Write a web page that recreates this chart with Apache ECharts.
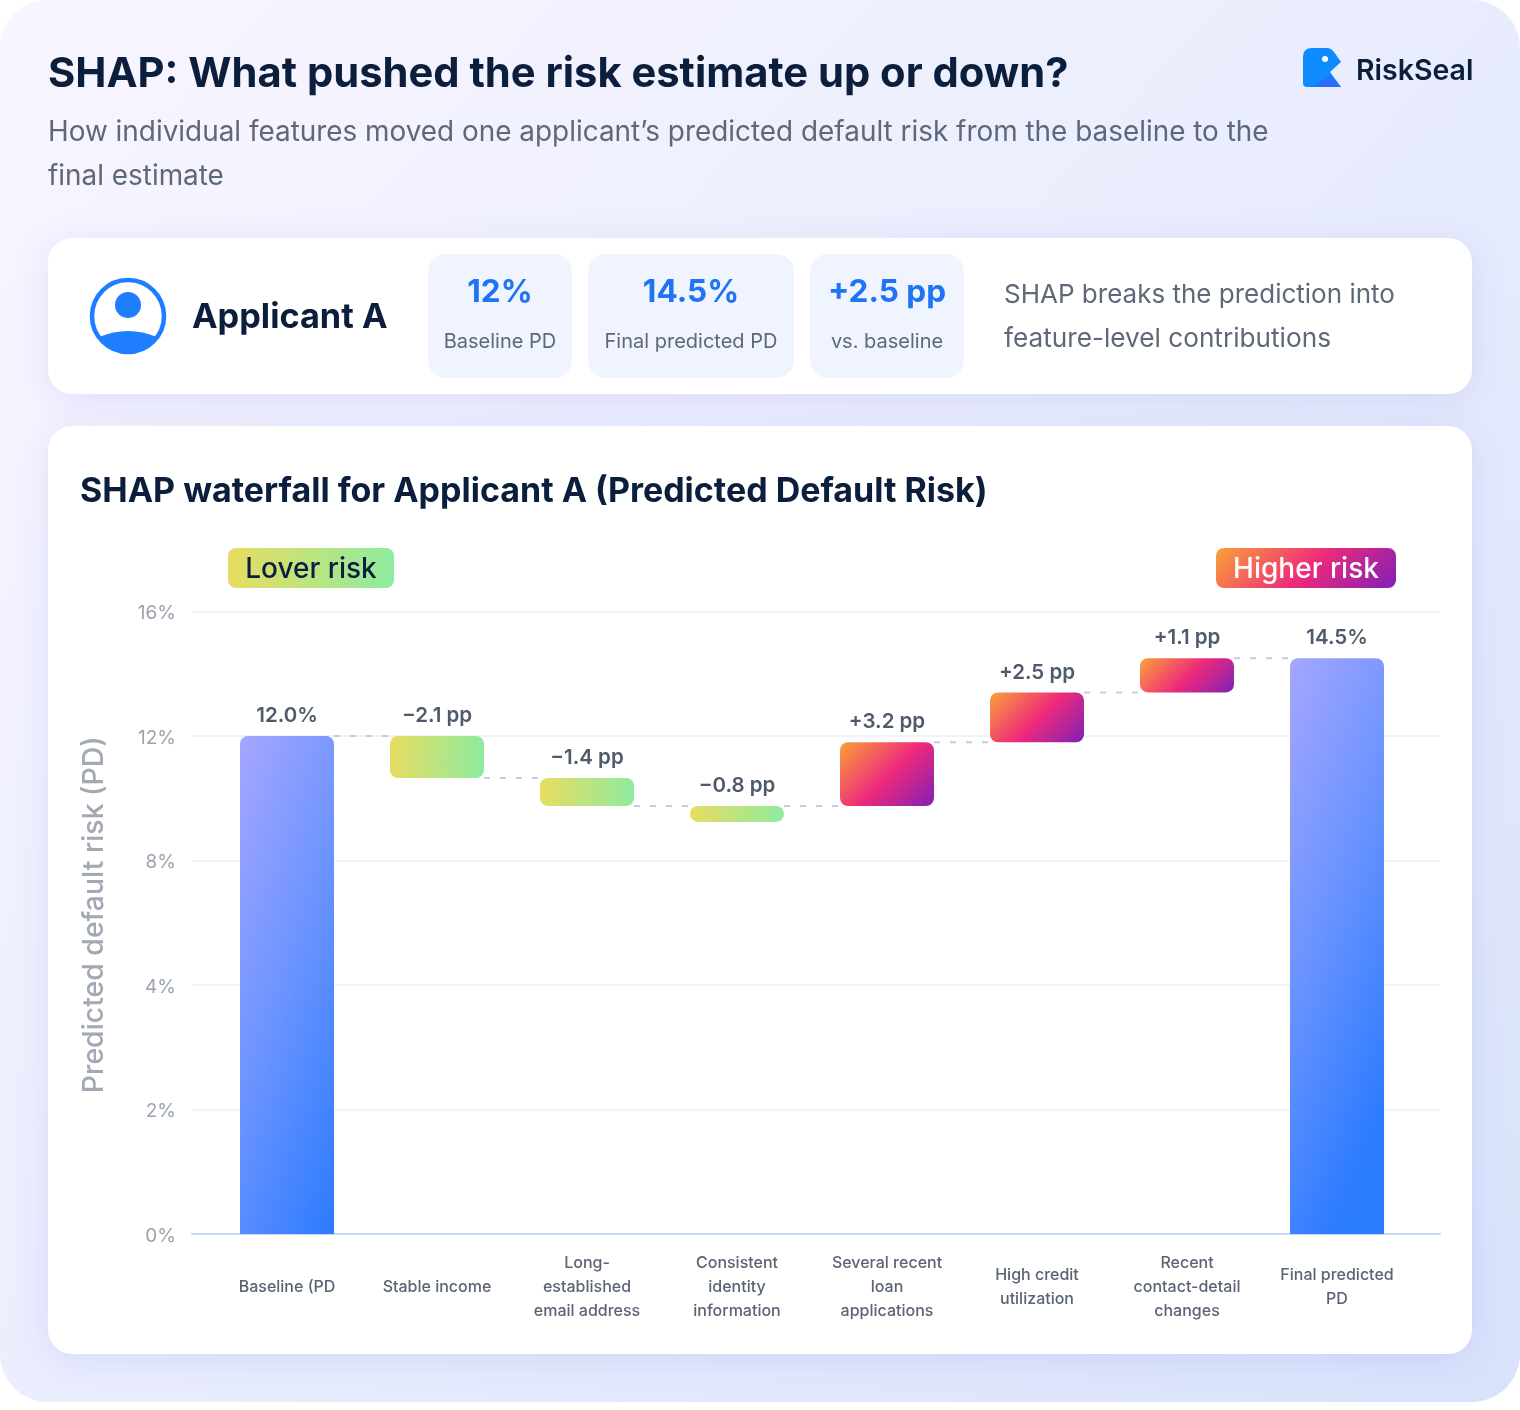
<!DOCTYPE html>
<html><head><meta charset="utf-8">
<style>html,body{margin:0;padding:0;background:#fff}#c{width:1520px;height:1410px}</style>
<script src="https://cdn.jsdelivr.net/npm/echarts@6/dist/echarts.min.js"></script>
</head><body><div id="c"></div>
<script>
const categories = ['Baseline (PD','Stable income','Long-\nestablished\nemail address','Consistent\nidentity\ninformation','Several recent\nloan\napplications','High credit\nutilization','Recent\ncontact-detail\nchanges','Final predicted\nPD'];
const barStart = [-4, 12, 10.65, 9.75, 9.75, 11.8, 13.4, -4];
const barEnd = [12, 10.65, 9.75, 9.24, 11.8, 13.4, 14.5, 14.5];
const barKinds = ['total','down','down','down','up','up','up','total'];
const valueLabels = ['12.0%','\u22122.1 pp','\u22121.4 pp','\u22120.8 pp','+3.2 pp','+2.5 pp','+1.1 pp','14.5%'];
const connectorLevels = [12, 10.65, 9.75, 9.75, 11.8, 13.4, 14.5];
const yTickLabels = ['0%','2%','4%','8%','12%','16%'];
const statValues = ['12%','14.5%','+2.5 pp'];
const statCaptions = ['Baseline PD','Final predicted PD','vs. baseline'];

const F = 'Inter, sans-serif', NAVY = '#0b1f3c', GREY = '#5e6878';
const lg = (x,y,x2,y2,stops)=>new echarts.graphic.LinearGradient(x,y,x2,y2,stops.map(s=>({offset:s[0],color:s[1]})));
const gradTotal = ()=>lg(0,0,2.55,0.169,[[0,'#a6a6ff'],[0.5,'#6a93ff'],[1,'#2b7bff']]);
const gradDown = ()=>lg(0,0,1,0.15,[[0,'#e9dc60'],[1,'#8feb9f']]);
const gradUp = (w,h)=>lg(0,0,(w+h)/2/w,(w+h)/2/h,[[0,'#fba238'],[0.52,'#ee2a7b'],[1,'#7f20b8']]);

echarts.graphic.registerShape('logoBody',echarts.graphic.extendPath('M1312 48 L1327 48 Q1331 48 1334 52 L1341 62 L1330 72 L1341 87 L1307 87 Q1303 87 1303 83 L1303 57 Q1303 48 1312 48 Z',{}));
echarts.graphic.registerShape('avatarBody',echarts.graphic.extendPath('M99 337 Q128 325 157 337 A36 36 0 0 1 99 337 Z',{}));

const T=(x,y,text,size,weight,fill,align)=>({type:'text',x,y,z:5,style:{text,fontFamily:F,fontSize:size,fontWeight:weight,fill,align:align||'left',verticalAlign:'middle'}});
const R=(x,y,w,h,r,fill,extra)=>({type:'rect',z:extra&&extra.z!==undefined?extra.z:1,shape:{x,y,width:w,height:h,r},style:Object.assign({fill},extra&&extra.style||{})});

const statBoxes=[[428,144],[588,206],[810,154]];
const graphics=[
  R(0,0,1520,1402,48,lg(0,0,1,1,[[0,'#f9f6ff'],[0.5,'#e9edfd'],[1,'#d9e2fb']]),{z:-20}),
  T(48,74,'SHAP: What pushed the risk estimate up or down?',41.7,700,NAVY),
  T(48,133,'How individual features moved one applicant\u2019s predicted default risk from the baseline to the',27.9,400,GREY),
  T(48,177,'final estimate',27.9,400,GREY),
  {type:'logoBody',z:5,style:{fill:'#0f8bff'}},
  {type:'polygon',z:6,shape:{points:[[1313,87],[1330,75],[1341,87]]},style:{fill:'#2b6cff'}},
  {type:'circle',z:6,shape:{cx:1325,cy:59,r:3},style:{fill:'#fff'}},
  T(1356,71,'RiskSeal',28.5,600,NAVY),
  R(48,238,1424,156,24,'#fff',{z:-10,style:{shadowBlur:36,shadowColor:'rgba(110,110,230,0.16)',shadowOffsetY:6}}),
  {type:'circle',z:5,shape:{cx:128,cy:316,r:36},style:{fill:'#fff',stroke:'#1f7dff',lineWidth:4.5}},
  {type:'circle',z:5,shape:{cx:128,cy:305,r:13},style:{fill:'#1f7dff'}},
  {type:'avatarBody',z:5,style:{fill:'#1f7dff'}},
  T(192,318,'Applicant A',34.3,700,NAVY),
  ...statBoxes.map(b=>R(b[0],254,b[1],124,18,'#f0f4fe')),
  ...statBoxes.map((b,i)=>T(b[0]+b[1]/2,293,statValues[i],31.5,700,'#1f74f5','center')),
  ...statBoxes.map((b,i)=>T(b[0]+b[1]/2,342,statCaptions[i],20,400,GREY,'center')),
  T(1004,295,'SHAP breaks the prediction into',26,400,GREY),
  T(1004,339.5,'feature-level contributions',26.2,400,GREY),
  R(48,426,1424,928,24,'#fff',{z:-10,style:{shadowBlur:36,shadowColor:'rgba(110,110,230,0.16)',shadowOffsetY:6}}),
  T(80,492,'SHAP waterfall for Applicant A (Predicted Default Risk)',34,700,NAVY),
  R(228,548,166,40,8,lg(0,0,1,0.2,[[0,'#e9dc60'],[1,'#8feb9f']])),
  T(311,570,'Lover risk',28,500,NAVY,'center'),
  R(1216,548,180,40,8,gradUp(180,40)),
  T(1306,570,'Higher risk',28,500,'#fff','center')
];

function renderItem(params, api){
  const i=api.value(0), barW=94;
  const a=api.coord([i,api.value(1)]), b=api.coord([i,api.value(2)]);
  const top=Math.min(a[1],b[1]), bottom=Math.max(a[1],b[1]);
  const kind=barKinds[i];
  const fill=kind==='total'?gradTotal():kind==='down'?gradDown():gradUp(barW,bottom-top);
  const children=[{type:'rect',shape:{x:a[0]-barW/2,y:top,width:barW,height:bottom-top,r:kind==='total'?[8,8,0,0]:8},style:{fill}},
    {type:'text',style:{text:valueLabels[i],x:a[0],y:top-20,fontFamily:F,fontSize:20.5,fontWeight:600,fill:'#4f5a6c',align:'center',verticalAlign:'middle'}}];
  if(i<connectorLevels.length){
    const p=api.coord([i,connectorLevels[i]]), q=api.coord([i+1,connectorLevels[i]]);
    children.push({type:'line',shape:{x1:p[0]+barW/2,y1:p[1],x2:q[0]-barW/2,y2:q[1]},style:{stroke:'#c9c9ee',lineWidth:2,lineDash:[6,10]}});
  }
  return {type:'group',children};
}

const chart=echarts.init(document.getElementById('c'),null,{renderer:'canvas',width:1520,height:1410});
chart.setOption({
  animation:false,
  backgroundColor:'transparent',
  graphic:{elements:graphics},
  grid:[{left:192,width:1248,top:611.5,height:622.5,containLabel:false},{left:212,width:1200,top:611.5,height:622.5,containLabel:false}],
  xAxis:[
    {type:'value',gridIndex:0,min:0,max:1,axisLabel:{show:false},axisTick:{show:false},splitLine:{show:false},axisLine:{show:true,onZero:false,lineStyle:{color:'#c8d8f0',width:2}}},
    {type:'category',gridIndex:1,data:categories,axisTick:{show:false},axisLine:{show:false,onZero:false},
     axisLabel:{interval:0,margin:53,verticalAlign:'middle',lineHeight:24,fontFamily:F,fontSize:16,fontWeight:500,color:'#5a6474'}}
  ],
  yAxis:[
    {type:'value',gridIndex:0,min:-4,max:16,interval:4,axisLine:{show:false},axisTick:{show:false},
     splitLine:{lineStyle:{color:'#f0f3f9',width:2}},
     axisLabel:{margin:16,formatter:(v,idx)=>'{t|'+yTickLabels[idx]+'}',
       rich:{t:{fontFamily:F,fontSize:19,color:'#9aa3ae',verticalAlign:'bottom',lineHeight:23}}},
     name:'Predicted default risk (PD)',nameLocation:'middle',nameRotate:90,nameGap:84,
     nameTextStyle:{fontFamily:F,fontSize:28.4,fontWeight:500,color:'#a3a9b3',padding:[0,0,0,16]}},
    {type:'value',gridIndex:1,min:-4,max:16,interval:4,show:false}
  ],
  series:[{type:'custom',xAxisIndex:1,yAxisIndex:1,renderItem,clip:false,
    encode:{x:0,y:[1,2]},
    data:categories.map((c,i)=>[i,barStart[i],barEnd[i]])}]
});
</script></body></html>
